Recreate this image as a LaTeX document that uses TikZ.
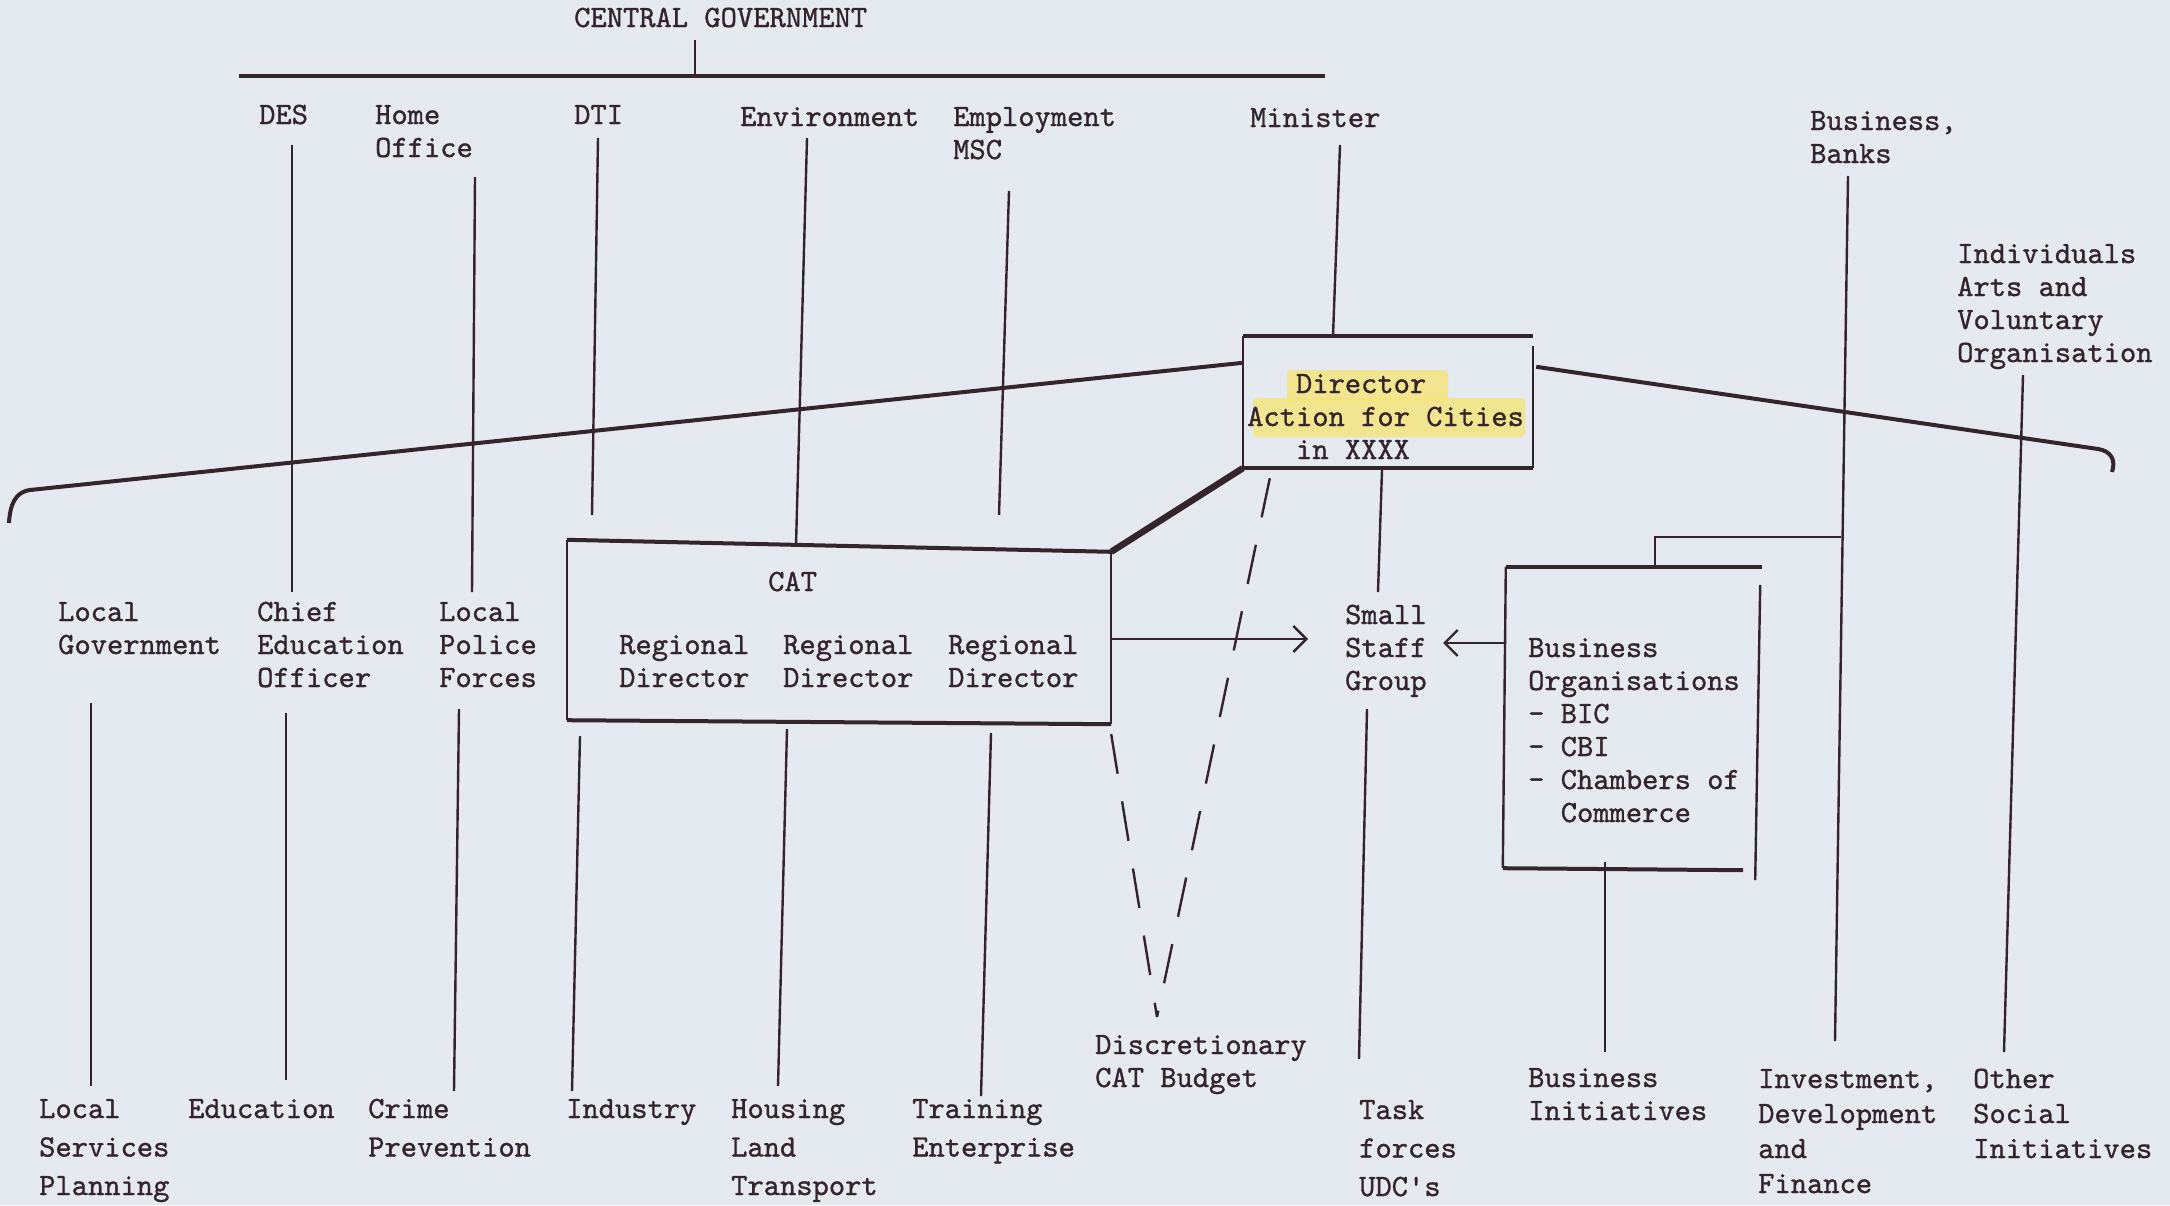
\documentclass[tikz,border=0pt]{standalone}
\usepackage{fontspec}
\usepackage{tikz}
\usetikzlibrary{arrows.meta, positioning}

\definecolor{paper}{RGB}{229,234,240}
\definecolor{ink}{RGB}{52,36,44}
\definecolor{hilite}{RGB}{246,228,112}
\newfontfamily\typer{lmmono10-regular.otf}[FakeBold=1]
\newcommand{\tw}{\typer\fontsize{31}{33}\selectfont}
\newcommand{\twwide}{\typer\fontsize{31}{38.5}\selectfont}
\newcommand{\twmid}{\typer\fontsize{31}{35}\selectfont}

\tikzset{
	lbl/.style={anchor=base west, inner sep=0, align=left, font=\tw, text=ink},
	lblwide/.style={lbl, font=\twwide},
	lblmid/.style={lbl, font=\twmid},
	boxframe/.style={inner sep=0, draw=none},
	fine/.style={draw=ink, line width=2.4pt},
	heavy/.style={draw=ink, line width=4pt},
	link/.style={draw=ink, line width=6.5pt},
	dashy/.style={draw=ink, line width=2.4pt, dash pattern=on 40pt off 28pt},
	arr/.style={fine, -{Straight Barb[length=13pt, width=26pt, line width=2.4pt]}},
}

\begin{document}
\begin{tikzpicture}[x=1pt, y=-1pt]

	% Paper
	\fill[paper] (0,0) rectangle (2170,1205);
	\useasboundingbox (0,0) rectangle (2170,1205);

	% Marker pen
	\fill[hilite, opacity=0.75, rounded corners=4pt] (1287,370) rectangle (1448,401);
	\fill[hilite, opacity=0.75, rounded corners=4pt] (1253,398) rectangle (1525,437);

	% Nodes (placed by the baseline of their last line)
	\node[lbl] (cg) at (574,27) {CENTRAL GOVERNMENT};
	\node[lbl] (des) at (259,124) {DES};
	\node[lbl] (home) at (375,157) {Home\\Office};
	\node[lbl] (dti) at (574,124) {DTI};
	\node[lbl] (env) at (740,126) {Environment};
	\node[lbl] (empl) at (953,159) {Employment\\MSC};
	\node[lbl] (minister) at (1250,127) {Minister};
	\node[lbl] (banks) at (1810,163) {Business,\\Banks};
	\node[lbl] (indiv) at (1957,362) {Individuals\\Arts and\\Voluntary\\Organisation};

	\node[boxframe, minimum width=290pt, minimum height=132pt] (dir) at (1388,402) {};
		\node[lbl] (dirtxt) at (1247,459) {\phantom{Act}Director\\Action for Cities\\\phantom{Act}in XXXX};
	\node[boxframe, minimum width=544pt, minimum height=184pt] (cat) at (839,632) {};
		\node[lbl] (catname) at (768,591) {CAT};
		\node[lbl] (rd1) at (619,687) {Regional\\Director};
		\node[lbl] (rd2) at (783,687) {Regional\\Director};
		\node[lbl] (rd3) at (948,687) {Regional\\Director};
	\node[boxframe, minimum width=252pt, minimum height=301pt] (bo) at (1632,717.5) {};
		\node[lbl] (botxt) at (1528,822) {Business\\Organisations\\- BIC\\- CBI\\- Chambers of\\\phantom{- }Commerce};
	\node[lbl] (staff) at (1345,690) {Small\\Staff\\Group};

	\node[lbl] (localgov) at (58,654) {Local\\Government};
	\node[lbl] (ceo) at (257,687) {Chief\\Education\\Officer};
	\node[lbl] (police) at (439,687) {Local\\Police\\Forces};

	\node[lblwide] (services) at (39,1195) {Local\\Services\\Planning};
	\node[lblwide] (educ) at (188,1118) {Education};
	\node[lblwide] (crime) at (368,1156.5) {Crime\\Prevention};
	\node[lblwide] (industry) at (566,1118) {Industry};
	\node[lblwide] (housing) at (731,1195) {Housing\\Land\\Transport};
	\node[lblwide] (training) at (912,1156.5) {Training\\Enterprise};
	\node[lbl] (budget) at (1095,1087) {Discretionary\\CAT Budget};
	\node[lblwide] (task) at (1359,1196) {Task\\forces\\UDC's};
	\node[lbl] (businit) at (1528,1120) {Business\\Initiatives};
	\node[lblmid] (invest) at (1758,1193) {Investment,\\Development\\and\\Finance};
	\node[lblmid] (social) at (1973,1158) {Other\\Social\\Initiatives};

	% Line ends
	\coordinate (barL) at (239,76);
	\coordinate (barR) at (1325,76);
	\coordinate (cgT) at (695,40);
	\coordinate (cgB) at (695,76);
	\coordinate (desT) at (292,145);
	\coordinate (desB) at (292,592);
	\coordinate (homeT) at (475,177);
	\coordinate (homeB) at (472,592);
	\coordinate (dtiT) at (598,138);
	\coordinate (dtiB) at (592,515);
	\coordinate (envT) at (807,138);
	\coordinate (envB) at (796,545);
	\coordinate (emplT) at (1009,191);
	\coordinate (emplB) at (999,515);
	\coordinate (minT) at (1340,145);
	\coordinate (minB) at (1333,336);
	\coordinate (banksT) at (1848,176);
	\coordinate (banksB) at (1835,1041);
	\coordinate (banksJ) at (1841,537);
	\coordinate (indivT) at (2023,375);
	\coordinate (indivB) at (2004,1052);
	\coordinate (staffT) at (1382,470);
	\coordinate (staffM) at (1378,592);
	\coordinate (staffU) at (1367,709);
	\coordinate (staffB) at (1359,1059);
	\coordinate (lgT) at (91,703);
	\coordinate (lgB) at (91,1086);
	\coordinate (ceoT) at (286,713);
	\coordinate (ceoB) at (286,1080);
	\coordinate (polT) at (459,709);
	\coordinate (polB) at (454,1091);
	\coordinate (cat1T) at (580,736);
	\coordinate (cat1B) at (572,1091);
	\coordinate (cat2T) at (787,729);
	\coordinate (cat2B) at (778,1086);
	\coordinate (cat3T) at (991,733);
	\coordinate (cat3B) at (981,1096);
	\coordinate (boT) at (1605,862);
	\coordinate (boB) at (1605,1052);
	\coordinate (boUp) at (1655,537);
	\coordinate (staffin) at (1308,639);
	\coordinate (staffin2) at (1443,643);
	\coordinate (apex) at (1157,1017);
	\coordinate (lend) at (9,523);
	\coordinate (rend) at (2112,472);

	% Boxes
	\draw[heavy] (dir.north west) -- (dir.north east);
	\draw[heavy] (dir.south west) -- (dir.south east);
	\draw[fine] (dir.north west) -- (dir.south west);
	\draw[fine] ([yshift=-10pt]dir.north east) -- (dir.south east);
	\draw[heavy] (cat.north west) -- ([yshift=-12pt]cat.north east);
	\draw[heavy] ([yshift=4pt]cat.south west) -- (cat.south east);
	\draw[fine] (cat.north west) -- ([yshift=4pt]cat.south west);
	\draw[fine] ([yshift=-12pt]cat.north east) -- (cat.south east);
	\draw[heavy] (bo.north west) -- ([xshift=4pt]bo.north east);
	\draw[fine] (bo.north west) -- ([xshift=-3pt]bo.south west);
	\draw[heavy] ([xshift=-3pt]bo.south west) -- ([xshift=-15pt, yshift=-2pt]bo.south east);
	\draw[fine] ([xshift=2pt, yshift=-18pt]bo.north east) -- ([xshift=-3pt, yshift=-12pt]bo.south east);

	% Lines
	\draw[heavy] (barL) -- (barR);
	\draw[fine] (cgT) -- (cgB);
	\draw[fine] (desT) -- (desB);
	\draw[fine] (homeT) -- (homeB);
	\draw[fine] (dtiT) -- (dtiB);
	\draw[fine] (envT) -- (envB);
	\draw[fine] (emplT) -- (emplB);
	\draw[fine] (minT) -- (minB);
	\draw[fine] (banksT) -- (banksB);
	\draw[fine] (indivT) -- (indivB);
	\draw[fine] (staffT) -- (staffM);
	\draw[fine] (staffU) -- (staffB);
	\draw[fine] (lgT) -- (lgB);
	\draw[fine] (ceoT) -- (ceoB);
	\draw[fine] (polT) -- (polB);
	\draw[fine] (cat1T) -- (cat1B);
	\draw[fine] (cat2T) -- (cat2B);
	\draw[fine] (cat3T) -- (cat3B);
	\draw[fine] (boT) -- (boB);
	\draw[fine] (bo.north -| boUp) -- (boUp) -- (banksJ);
	\draw[link] ([yshift=-12pt]cat.north east) -- (dir.south west);
	\draw[heavy] ([yshift=-27pt]dir.north west) -- (30,490) .. controls (15,492) and (10,505) .. (lend);
	\draw[heavy] ([yshift=-31pt, xshift=3pt]dir.north east) -- (2098,449) .. controls (2111,451) and (2116,460) .. (rend);

	% Arrows
	\draw[arr] (cat.east |- staffin) -- (staffin);
	\draw[arr] (bo.west |- staffin2) -- (staffin2);
	\draw[dashy] ([yshift=-10pt]cat.south east) -- (apex);
	\draw[dashy] ([xshift=27pt, yshift=-10pt]dir.south west) -- (apex);

\end{tikzpicture}
\end{document}
